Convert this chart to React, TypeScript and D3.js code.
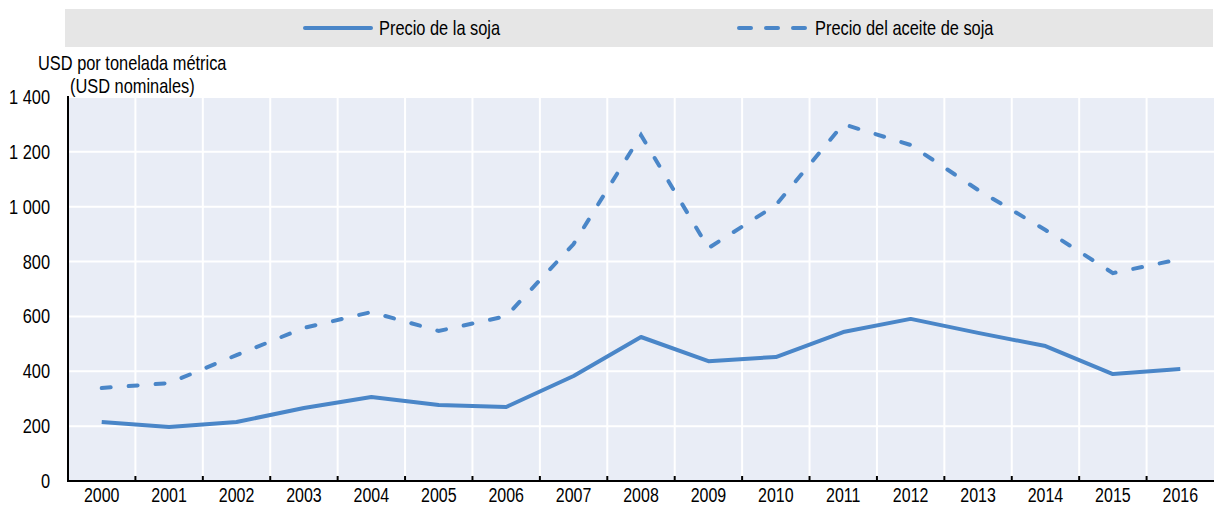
import * as d3 from 'd3';
import { useEffect, useRef } from 'react';

const years = ['2000', '2001', '2002', '2003', '2004', '2005', '2006', '2007', '2008', '2009', '2010', '2011', '2012', '2013', '2014', '2015', '2016'];
const soyPrice = [215, 197, 215, 266, 306, 277, 270, 383, 525, 437, 452, 543, 591, 540, 492, 390, 408];
const oilPrice = [339, 357, 459, 558, 616, 547, 601, 864, 1261, 849, 1006, 1301, 1225, 1061, 915, 758, 809];
const yTicks = [0, 200, 400, 600, 800, 1000, 1200, 1400];
const seriesNames = ['Precio de la soja', 'Precio del aceite de soja'];

const W = 1215;
const H = 506;
const FONT = "'Liberation Sans Narrow', 'Arial Narrow', 'Liberation Sans', Arial, sans-serif";
const BLUE = '#4a86c8';
const SX = 0.82;

const App = () => {
  const ref = useRef<SVGSVGElement | null>(null);

  useEffect(() => {
    document.body.style.margin = '0';
    const svg = d3.select(ref.current);
    svg.selectAll('*').remove();

    // condensed text helper
    const label = (g: any, x: number, y: number, txt: string, anchor = 'start', size = 20) =>
      g.append('text')
        .attr('transform', `translate(${x}, ${y}) scale(${SX}, 1)`)
        .attr('text-anchor', anchor)
        .attr('font-family', FONT).attr('font-size', size).attr('fill', '#000')
        .text(txt);

    const margin = { top: 97, right: 1, left: 68, bottom: 25 };
    const x = d3.scaleBand().domain(years).range([margin.left, W - margin.right]);
    const y = d3.scaleLinear().domain([0, 1400]).range([H - margin.bottom, margin.top]);

    // legend
    svg.append('rect').attr('x', 65).attr('y', 9).attr('width', W - 67).attr('height', 38).attr('fill', '#e6e6e6');
    svg.append('line').attr('x1', 305).attr('x2', 371).attr('y1', 28).attr('y2', 28)
      .attr('stroke', BLUE).attr('stroke-width', 4).attr('stroke-linecap', 'round');
    label(svg, 379, 35, seriesNames[0]);
    svg.append('line').attr('x1', 739).attr('x2', 805).attr('y1', 28).attr('y2', 28)
      .attr('stroke', BLUE).attr('stroke-width', 4).attr('stroke-linecap', 'round')
      .attr('stroke-dasharray', '12,15');
    label(svg, 815, 35, seriesNames[1]);

    // plot background
    svg.append('rect').attr('x', margin.left).attr('y', margin.top)
      .attr('width', W - margin.right - margin.left).attr('height', y(0) - margin.top).attr('fill', '#e9edf6');

    // grid
    svg.append('g').selectAll('line').data(yTicks.slice(1)).enter().append('line')
      .attr('x1', margin.left).attr('x2', W - margin.right)
      .attr('y1', (d) => y(d)).attr('y2', (d) => y(d))
      .attr('stroke', '#fff').attr('stroke-width', 2);
    svg.append('g').selectAll('line').data(years.slice(1)).enter().append('line')
      .attr('x1', (d) => x(d)!).attr('x2', (d) => x(d)!)
      .attr('y1', margin.top).attr('y2', y(0))
      .attr('stroke', '#fff').attr('stroke-width', 2);

    // axes
    const xAxis = svg.append('g').attr('transform', `translate(0, ${y(0)})`);
    xAxis.append('line').attr('x1', margin.left).attr('x2', W - margin.right).attr('stroke', '#000').attr('stroke-width', 2);
    xAxis.selectAll('.tk').data(years.slice(1)).enter().append('line')
      .attr('x1', (d) => x(d)!).attr('x2', (d) => x(d)!).attr('y1', 0).attr('y2', -5)
      .attr('stroke', '#000').attr('stroke-width', 2);
    years.forEach((yr) => label(xAxis, x(yr)! + x.bandwidth() / 2, 20.5, yr, 'middle', 19.5));

    svg.append('line').attr('x1', margin.left).attr('x2', margin.left)
      .attr('y1', margin.top - 1).attr('y2', y(0) + 1).attr('stroke', '#000').attr('stroke-width', 2);
    yTicks.forEach((t) => label(svg, 50, y(t) + 7, d3.format(',')(t).replace(',', ' '), 'end'));

    label(svg, 38, 70, 'USD por tonelada métrica');
    label(svg, 70, 93, '(USD nominales)');

    // lines
    const line = d3.line<number>()
      .x((_, i) => x(years[i])! + x.bandwidth() / 2)
      .y((d) => y(d));
    svg.append('path').datum(soyPrice).attr('d', line).attr('fill', 'none')
      .attr('stroke', BLUE).attr('stroke-width', 4).attr('stroke-linejoin', 'round');
    svg.append('path').datum(oilPrice).attr('d', line).attr('fill', 'none')
      .attr('stroke', BLUE).attr('stroke-width', 4).attr('stroke-linecap', 'round')
      .attr('stroke-dasharray', '9,18');
  }, []);

  return <svg ref={ref} width={W} height={H} style={{ display: 'block' }}></svg>;
};

export default App;
